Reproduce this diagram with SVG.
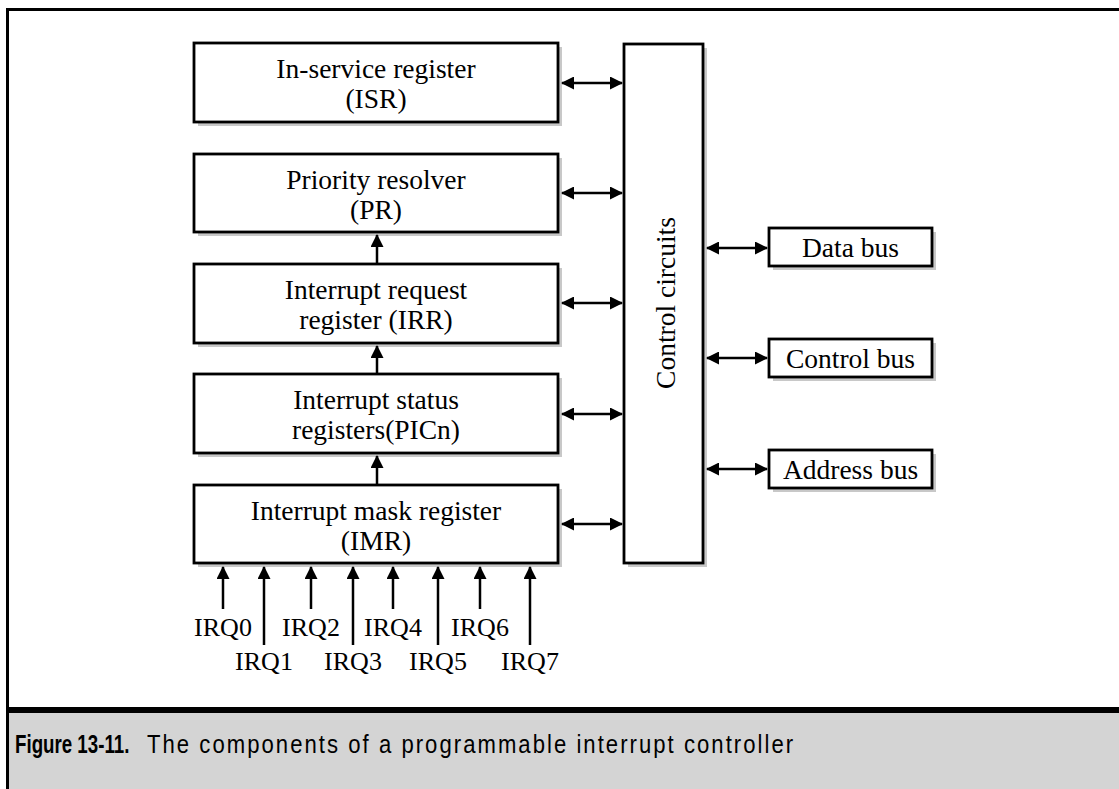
<svg xmlns="http://www.w3.org/2000/svg" width="1119" height="789" viewBox="0 0 1119 789">
  <style>
    .box { fill: #ffffff; stroke: #000000; stroke-width: 2.8; }
    .shadow { fill: #c8c8c8; stroke: none; }
    .lbl { font-family: "Liberation Serif", "Times New Roman", serif; font-size: 27.5px; fill: #000000; text-anchor: middle; }
    .irq { font-family: "Liberation Serif", "Times New Roman", serif; font-size: 26px; fill: #000000; text-anchor: middle; }
    .conn { stroke: #000000; stroke-width: 2.5; fill: none; }
    .cap { font-family: "Liberation Sans", Arial, sans-serif; fill: #000000; }
  </style>
  <defs>
    <marker id="ah" viewBox="0 0 13 13" refX="12" refY="6.5" markerWidth="13" markerHeight="13" markerUnits="userSpaceOnUse" orient="auto-start-reverse">
      <path d="M0,0 L13,6.5 L0,13 Z" fill="#000000"/>
    </marker>
  </defs>

  <!-- frame -->
  <rect x="0" y="0" width="1119" height="789" fill="#ffffff"/>
  <rect x="9" y="713" width="1110" height="76" fill="#d4d4d4"/>
  <line x1="7.5" y1="8" x2="7.5" y2="789" stroke="#000" stroke-width="3"/>
  <line x1="6" y1="9.5" x2="1119" y2="9.5" stroke="#000" stroke-width="3"/>
  <line x1="6" y1="710" x2="1119" y2="710" stroke="#000" stroke-width="6"/>

  <g id="isr">
    <rect class="shadow" x="198" y="47" width="364" height="79"/>
    <rect class="box" x="194" y="43" width="364" height="79"/>
    <text class="lbl" x="376" y="78">In-service register</text>
    <text class="lbl" x="376" y="108">(ISR)</text>
  </g>
  <g id="pr">
    <rect class="shadow" x="198" y="158" width="364" height="78"/>
    <rect class="box" x="194" y="154" width="364" height="78"/>
    <text class="lbl" x="376" y="189">Priority resolver</text>
    <text class="lbl" x="376" y="219">(PR)</text>
  </g>
  <g id="irr">
    <rect class="shadow" x="198" y="268" width="364" height="79"/>
    <rect class="box" x="194" y="264" width="364" height="79"/>
    <text class="lbl" x="376" y="299">Interrupt request</text>
    <text class="lbl" x="376" y="329">register (IRR)</text>
  </g>
  <g id="picn">
    <rect class="shadow" x="198" y="378" width="364" height="79"/>
    <rect class="box" x="194" y="374" width="364" height="79"/>
    <text class="lbl" x="376" y="409">Interrupt status</text>
    <text class="lbl" x="376" y="439">registers(PICn)</text>
  </g>
  <g id="imr">
    <rect class="shadow" x="198" y="489" width="364" height="78"/>
    <rect class="box" x="194" y="485" width="364" height="78"/>
    <text class="lbl" x="376" y="520">Interrupt mask register</text>
    <text class="lbl" x="376" y="550">(IMR)</text>
  </g>
  <g id="control">
    <rect class="shadow" x="628" y="48" width="79" height="519"/>
    <rect class="box" x="624" y="44" width="79" height="519"/>
    <text class="lbl" transform="translate(675,303) rotate(-90)">Control circuits</text>
  </g>
  <g id="databus">
    <rect class="shadow" x="773" y="232" width="163" height="38"/>
    <rect class="box" x="769" y="228" width="163" height="38"/>
    <text class="lbl" x="850.5" y="257">Data bus</text>
  </g>
  <g id="controlbus">
    <rect class="shadow" x="773" y="343" width="163" height="38"/>
    <rect class="box" x="769" y="339" width="163" height="38"/>
    <text class="lbl" x="850.5" y="368">Control bus</text>
  </g>
  <g id="addressbus">
    <rect class="shadow" x="773" y="454" width="163" height="38"/>
    <rect class="box" x="769" y="450" width="163" height="38"/>
    <text class="lbl" x="850.5" y="479">Address bus</text>
  </g>

  <g id="connectors">
    <line class="conn" x1="377" y1="263" x2="377" y2="235" marker-end="url(#ah)"/>
    <line class="conn" x1="377" y1="373" x2="377" y2="346" marker-end="url(#ah)"/>
    <line class="conn" x1="377" y1="484" x2="377" y2="456" marker-end="url(#ah)"/>

    <line class="conn" x1="562" y1="83" x2="622" y2="83" marker-start="url(#ah)" marker-end="url(#ah)"/>
    <line class="conn" x1="562" y1="193" x2="622" y2="193" marker-start="url(#ah)" marker-end="url(#ah)"/>
    <line class="conn" x1="562" y1="303" x2="622" y2="303" marker-start="url(#ah)" marker-end="url(#ah)"/>
    <line class="conn" x1="562" y1="414" x2="622" y2="414" marker-start="url(#ah)" marker-end="url(#ah)"/>
    <line class="conn" x1="562" y1="524" x2="622" y2="524" marker-start="url(#ah)" marker-end="url(#ah)"/>

    <line class="conn" x1="707" y1="248" x2="767" y2="248" marker-start="url(#ah)" marker-end="url(#ah)"/>
    <line class="conn" x1="707" y1="358" x2="767" y2="358" marker-start="url(#ah)" marker-end="url(#ah)"/>
    <line class="conn" x1="707" y1="469" x2="767" y2="469" marker-start="url(#ah)" marker-end="url(#ah)"/>

    <line class="conn" x1="223" y1="609" x2="223" y2="567" marker-end="url(#ah)"/>
    <line class="conn" x1="264" y1="645" x2="264" y2="567" marker-end="url(#ah)"/>
    <line class="conn" x1="311" y1="609" x2="311" y2="567" marker-end="url(#ah)"/>
    <line class="conn" x1="353" y1="645" x2="353" y2="567" marker-end="url(#ah)"/>
    <line class="conn" x1="393" y1="609" x2="393" y2="567" marker-end="url(#ah)"/>
    <line class="conn" x1="438" y1="645" x2="438" y2="567" marker-end="url(#ah)"/>
    <line class="conn" x1="480" y1="609" x2="480" y2="567" marker-end="url(#ah)"/>
    <line class="conn" x1="530" y1="645" x2="530" y2="567" marker-end="url(#ah)"/>
  </g>

  <g id="irq-labels">
    <text class="irq" x="223" y="636">IRQ0</text>
    <text class="irq" x="264" y="670">IRQ1</text>
    <text class="irq" x="311" y="636">IRQ2</text>
    <text class="irq" x="353" y="670">IRQ3</text>
    <text class="irq" x="393" y="636">IRQ4</text>
    <text class="irq" x="438" y="670">IRQ5</text>
    <text class="irq" x="480" y="636">IRQ6</text>
    <text class="irq" x="530" y="670">IRQ7</text>
  </g>

  <g id="caption">
    <text class="cap" font-weight="bold" font-size="26" transform="translate(15,753) scale(0.72,1)">Figure 13-11.</text>
    <text class="cap" font-size="26" letter-spacing="2.4" transform="translate(147,753) scale(0.85,1)">The components of a programmable interrupt controller</text>
  </g>
</svg>
